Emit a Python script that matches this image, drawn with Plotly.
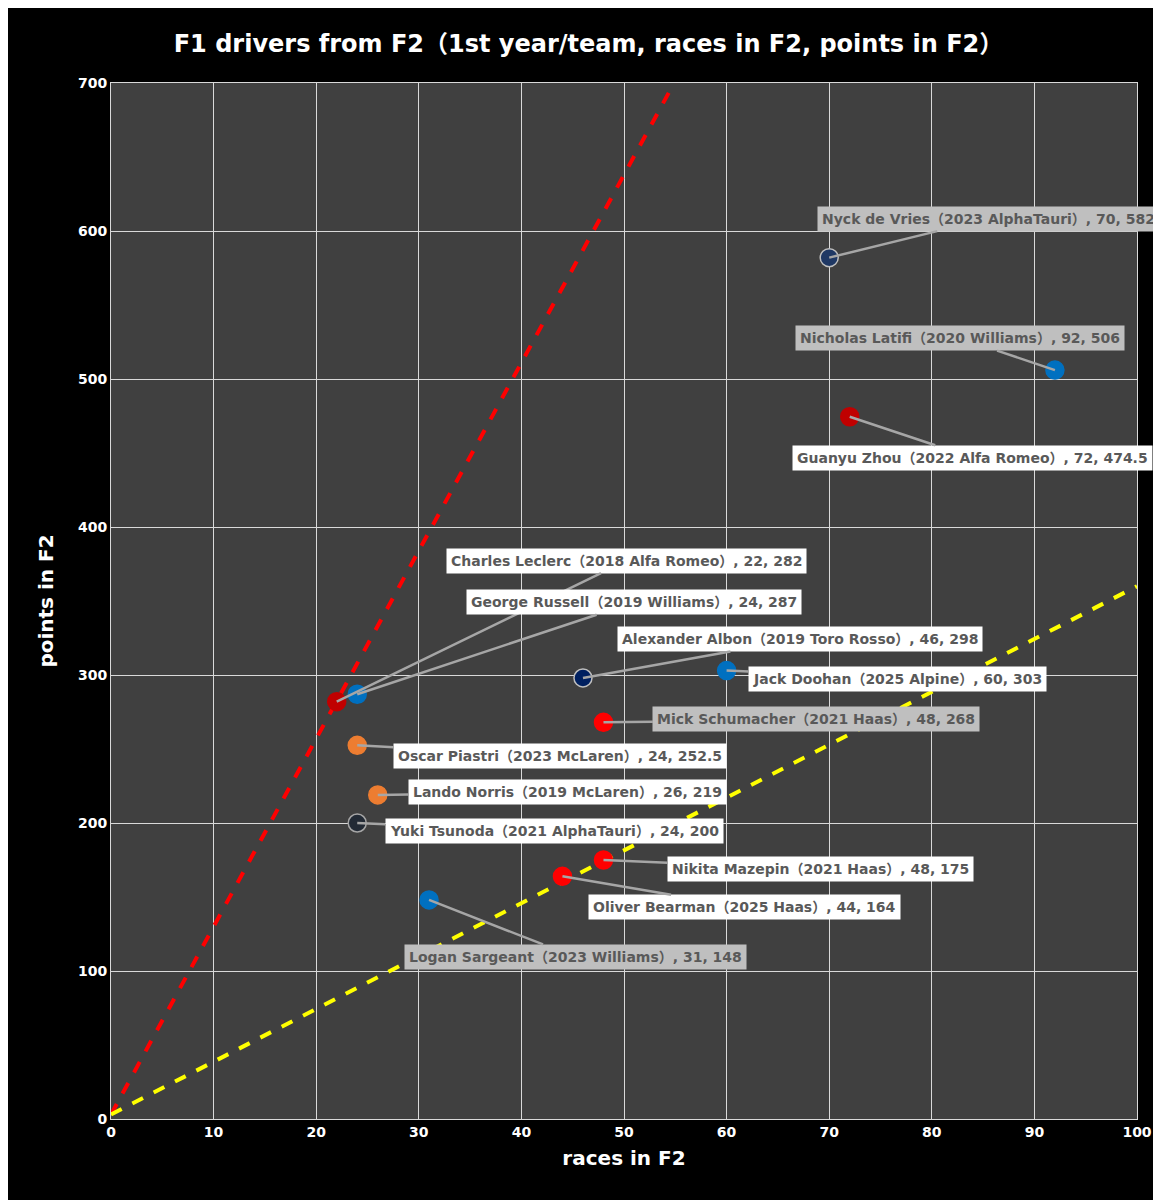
import plotly.graph_objects as go

names = ["Nyck de Vries（2023 AlphaTauri）", "Nicholas Latifi（2020 Williams）", "Guanyu Zhou（2022 Alfa Romeo）",
         "Charles Leclerc（2018 Alfa Romeo）", "George Russell（2019 Williams）", "Alexander Albon（2019 Toro Rosso）",
         "Jack Doohan（2025 Alpine）", "Mick Schumacher（2021 Haas）", "Oscar Piastri（2023 McLaren）",
         "Lando Norris（2019 McLaren）", "Yuki Tsunoda（2021 AlphaTauri）", "Nikita Mazepin（2021 Haas）",
         "Oliver Bearman（2025 Haas）", "Logan Sargeant（2023 Williams）"]
races = [70, 92, 72, 22, 24, 46, 60, 48, 24, 26, 24, 48, 44, 31]
points = [582, 506, 474.5, 282, 287, 298, 303, 268, 252.5, 219, 200, 175, 164, 148]
colors = ["#1f3864", "#0070c0", "#c00000", "#c00000", "#0070c0", "#002060", "#0070c0", "#ff0000",
          "#ed7d31", "#ed7d31", "#222a35", "#ff0000", "#ff0000", "#0070c0"]
borders = ["#bfbfbf", "#0070c0", "#c00000", "#c00000", "#0070c0", "#bfbfbf", "#0070c0", "#ff0000",
           "#ed7d31", "#ed7d31", "#a6a6a6", "#ff0000", "#ff0000", "#0070c0"]
label_bg = ["#bfbfbf", "#bfbfbf", "#ffffff", "#ffffff", "#ffffff", "#ffffff", "#ffffff", "#bfbfbf",
            "#ffffff", "#ffffff", "#ffffff", "#ffffff", "#ffffff", "#bfbfbf"]
label_dx = [159, -95, 123, 290, 277, 217, 171, 213, 203, 190, 197, 217, 182, 146]
label_dy = [-39, -32, 41, -141, -92, -39, 8, -3, 11, -3, 8, 9, 31, 57]

trend_red = {"x": [0, 55], "intercept": 3, "slope": 12.7}
trend_yellow = {"x": [0, 100], "intercept": 3, "slope": 3.57}

FONT = "DejaVu Sans, Noto Sans CJK JP"

fig = go.Figure()
for t, c in [(trend_red, "#ff0000"), (trend_yellow, "#ffff00")]:
    fig.add_trace(go.Scatter(x=t["x"], y=[t["intercept"] + t["slope"] * v for v in t["x"]],
                             mode="lines", line=dict(color=c, width=4, dash="dash"),
                             hoverinfo="skip", showlegend=False))
fig.add_trace(go.Scatter(x=races, y=points, mode="markers", showlegend=False,
                         marker=dict(size=18, color=colors, line=dict(color=borders, width=1.5))))

for i in range(len(names)):
    fig.add_annotation(x=races[i], y=points[i], ax=label_dx[i], ay=label_dy[i],
                       text=f"{names[i]}, {races[i]}, {points[i]:g}",
                       showarrow=True, arrowhead=0, arrowwidth=2.5, arrowcolor="#a6a6a6",
                       bgcolor=label_bg[i], borderpad=4,
                       font=dict(family=FONT, size=14, color="#595959", weight="bold"))

fig.update_layout(
    width=1161, height=1200,
    paper_bgcolor="#000000", plot_bgcolor="#404040",
    margin=dict(l=103, r=32, t=75, b=89),
    title=dict(text="F1 drivers from F2（1st year/team, races in F2, points in F2）",
               x=0.5, xanchor="center", y=0.97, yanchor="middle",
               font=dict(family=FONT, size=24, color="white", weight="bold")),
    xaxis=dict(range=[0, 100], dtick=10, showgrid=True, gridcolor="#d9d9d9", gridwidth=1,
               zeroline=False, showline=True, linecolor="#d9d9d9", mirror=True,
               tickfont=dict(color="white", size=14, family=FONT, weight="bold"),
               title=dict(text="races in F2", font=dict(color="white", size=20, family=FONT, weight="bold"), standoff=12)),
    yaxis=dict(range=[0, 700], dtick=100, showgrid=True, gridcolor="#d9d9d9", gridwidth=1,
               zeroline=False, showline=True, linecolor="#d9d9d9", mirror=True,
               tickfont=dict(color="white", size=14, family=FONT, weight="bold"),
               title=dict(text="points in F2", font=dict(color="white", size=20, family=FONT, weight="bold"), standoff=18)),
)
fig.write_html("out.html")
